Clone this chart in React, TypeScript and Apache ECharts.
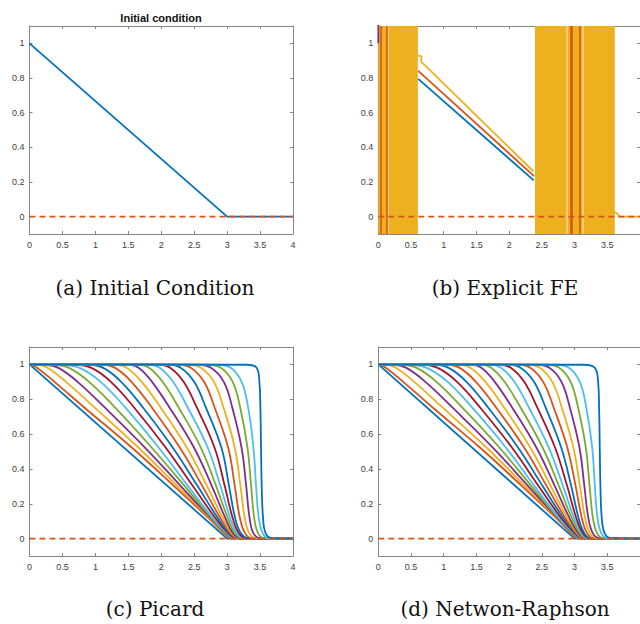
import React, { useEffect, useRef } from "react";
import * as echarts from "echarts";

// ---------- data ----------
const xMin = 0;
const xMax = 4;
const xInterval = 0.5;
const yMin = -0.1;
const yMax = 1.1;
const yTickValues = [0, 0.2, 0.4, 0.6, 0.8, 1];
const palette = ["#0072BD", "#D95319", "#EDB120", "#7E2F8E", "#77AC30", "#4DBEEE", "#A2142F"];

const panelTitle = "Initial condition";
const captions = ["(a) Initial Condition", "(b) Explicit FE", "(c) Picard", "(d) Netwon-Raphson"];

// (a) initial condition and zero reference
const initialCondition = [[0, 1], [3, 0], [4, 0]];
const zeroLine = [[0, 0], [4, 0]];

// (b) explicit FE (blow-up regions and surviving ramps)
const feBlowupRanges = [[0, 0.605], [2.395, 3.615]];
const feRedSpikesX = [0.04, 0.127, 2.94, 2.965, 3.08];
const fePaleSpikesX = [0.147, 2.885, 3.13];
const feBlueLine = [[0.61, 0.795], [2.376, 0.209]];
const feRedLine = [[0.61, 0.841], [2.38, 0.234]];
const feYellowLine = [[0.6, 0.93], [0.66, 0.925], [0.655, 0.895], [2.37, 0.262]];
const fePurpleLine = [[0, 1], [0, 1.3]];
const feYellowTail = [[3.6, 0.03], [3.66, 0.015], [3.69, 0], [4, 0]];

// (c),(d) profiles: x where each curve crosses these u levels
const profileLevels = [0.998, 0.98, 0.9, 0.75, 0.52, 0.3, 0.12, 0.03, 0.003];

const picardX = [
  [0.02, 0.12, 0.38, 0.84, 1.56, 2.2, 2.71, 2.95, 3.05],
  [0.135, 0.28, 0.555, 0.995, 1.66, 2.25, 2.73, 2.96, 3.07],
  [0.25, 0.44, 0.73, 1.15, 1.76, 2.3, 2.745, 2.975, 3.085],
  [0.365, 0.6, 0.905, 1.305, 1.86, 2.36, 2.76, 2.99, 3.1],
  [0.48, 0.76, 1.08, 1.46, 1.965, 2.41, 2.78, 3.0, 3.12],
  [0.684, 0.94, 1.236, 1.594, 2.072, 2.482, 2.818, 3.018, 3.138],
  [0.888, 1.12, 1.392, 1.728, 2.179, 2.554, 2.856, 3.036, 3.156],
  [1.092, 1.3, 1.548, 1.862, 2.286, 2.626, 2.894, 3.054, 3.174],
  [1.296, 1.48, 1.704, 1.996, 2.393, 2.698, 2.932, 3.072, 3.192],
  [1.5, 1.66, 1.86, 2.13, 2.5, 2.77, 2.97, 3.09, 3.21],
  [1.655, 1.82, 2.02, 2.268, 2.604, 2.835, 3.008, 3.12, 3.238],
  [1.81, 1.98, 2.18, 2.405, 2.708, 2.9, 3.045, 3.15, 3.265],
  [1.965, 2.14, 2.34, 2.543, 2.811, 2.965, 3.083, 3.18, 3.293],
  [2.12, 2.3, 2.5, 2.68, 2.915, 3.03, 3.12, 3.21, 3.32],
  [2.263, 2.453, 2.65, 2.813, 3.017, 3.117, 3.193, 3.273, 3.38],
  [2.407, 2.607, 2.8, 2.947, 3.118, 3.203, 3.267, 3.337, 3.44],
  [2.55, 2.76, 2.95, 3.08, 3.22, 3.29, 3.34, 3.4, 3.5],
  [2.7, 2.91, 3.085, 3.2, 3.31, 3.365, 3.41, 3.47, 3.565],
  [2.85, 3.06, 3.22, 3.32, 3.4, 3.44, 3.48, 3.54, 3.63],
  [3.3, 3.45, 3.49, 3.505, 3.515, 3.525, 3.545, 3.585, 3.68],
];

const newtonX = [
  [0.02, 0.12, 0.38, 0.84, 1.561, 2.2, 2.71, 2.95, 3.04],
  [0.133, 0.275, 0.55, 0.99, 1.66, 2.248, 2.723, 2.96, 3.055],
  [0.245, 0.43, 0.72, 1.14, 1.758, 2.295, 2.735, 2.97, 3.07],
  [0.358, 0.585, 0.89, 1.29, 1.857, 2.343, 2.748, 2.98, 3.085],
  [0.47, 0.74, 1.06, 1.44, 1.955, 2.39, 2.76, 2.99, 3.1],
  [0.66, 0.908, 1.204, 1.562, 2.048, 2.452, 2.792, 3.004, 3.112],
  [0.85, 1.076, 1.348, 1.684, 2.141, 2.514, 2.824, 3.018, 3.124],
  [1.04, 1.244, 1.492, 1.806, 2.234, 2.576, 2.856, 3.032, 3.136],
  [1.23, 1.412, 1.636, 1.928, 2.327, 2.638, 2.888, 3.046, 3.148],
  [1.42, 1.58, 1.78, 2.05, 2.42, 2.7, 2.92, 3.06, 3.16],
  [1.565, 1.73, 1.93, 2.178, 2.515, 2.763, 2.955, 3.083, 3.183],
  [1.71, 1.88, 2.08, 2.305, 2.609, 2.825, 2.99, 3.105, 3.205],
  [1.855, 2.03, 2.23, 2.433, 2.704, 2.888, 3.025, 3.128, 3.228],
  [2.0, 2.18, 2.38, 2.56, 2.798, 2.95, 3.06, 3.15, 3.25],
  [2.14, 2.327, 2.52, 2.683, 2.891, 3.017, 3.11, 3.193, 3.293],
  [2.28, 2.473, 2.66, 2.807, 2.983, 3.083, 3.16, 3.237, 3.337],
  [2.42, 2.62, 2.8, 2.93, 3.076, 3.15, 3.21, 3.28, 3.38],
  [2.57, 2.77, 2.94, 3.055, 3.173, 3.23, 3.28, 3.345, 3.44],
  [2.72, 2.92, 3.08, 3.18, 3.27, 3.31, 3.35, 3.41, 3.5],
  [3.15, 3.31, 3.36, 3.375, 3.385, 3.395, 3.415, 3.46, 3.55],
];

// ---------- chart ----------
const AXIS_COLOR = "#858585";
const LABEL_COLOR = "#404040";
const SANS = "'Liberation Sans', Arial, sans-serif";
const SERIF = "'DejaVu Serif', serif";

const grids = [
  { left: 29.5, top: 26, width: 263.5, height: 208 },
  { left: 378.3, top: 26, width: 263.7, height: 208 },
  { left: 29.5, top: 347, width: 263.5, height: 209 },
  { left: 378.3, top: 347, width: 263.7, height: 209 },
];

function axesFor(g: number) {
  const base = {
    gridIndex: g,
    type: "value" as const,
    splitLine: { show: false },
    axisLine: { show: true, onZero: false, lineStyle: { color: AXIS_COLOR, width: 1 } },
  };
  const cutRight = g === 1 || g === 3;
  const tick = { show: true, inside: true, length: 3, lineStyle: { color: AXIS_COLOR } };
  const xs = [
    {
      ...base,
      position: "bottom",
      min: xMin,
      max: xMax,
      interval: xInterval,
      axisTick: tick,
      axisLabel: {
        show: true,
        color: LABEL_COLOR,
        fontSize: 9,
        fontFamily: SANS,
        margin: 6,
        showMaxLabel: !cutRight,
        showMinLabel: true,
      },
    },
    {
      ...base,
      position: "top",
      min: xMin,
      max: xMax,
      interval: xInterval,
      axisTick: tick,
      axisLabel: { show: false },
    },
  ];
  const ys = [
    {
      ...base,
      position: "left",
      min: yMin,
      max: yMax,
      axisTick: { ...tick, customValues: yTickValues },
      axisLabel: {
        show: true,
        color: LABEL_COLOR,
        fontSize: 9,
        fontFamily: SANS,
        margin: 5,
        customValues: yTickValues,
      },
    },
    {
      ...base,
      position: "right",
      min: yMin,
      max: yMax,
      axisTick: { ...tick, customValues: yTickValues },
      axisLabel: { show: false },
    },
  ];
  return { xs, ys };
}

function lineSeries(g: number, data: any[], color: string, extra: any = {}) {
  return {
    type: "line",
    xAxisIndex: 2 * g,
    yAxisIndex: 2 * g,
    data,
    symbol: "none",
    showSymbol: false,
    clip: true,
    silent: true,
    z: 3,
    lineStyle: { color, width: 1.8 },
    itemStyle: { color },
    ...extra,
  };
}

function dashedZero(g: number) {
  return lineSeries(g, zeroLine, palette[1], {
    z: 8,
    lineStyle: { color: palette[1], width: 1.8, type: [6, 4] },
  });
}

function profileSeries(g: number, rows: number[][]) {
  const out: any[] = [lineSeries(g, initialCondition, palette[0])];
  rows.forEach((row, k) => {
    // colour order cycles; the last (final-time) profile is drawn in the first colour
    const isLast = k === rows.length - 1;
    const color = isLast ? palette[0] : palette[(k + 1) % palette.length];
    const data = [[xMin, 1], ...row.map((x, j) => [x, profileLevels[j]]), [xMax, 0]];
    out.push(lineSeries(g, data, color, { smooth: 0.4 }));
  });
  out.push(dashedZero(g));
  return out;
}

function buildOption() {
  const xAxis: any[] = [];
  const yAxis: any[] = [];
  grids.forEach((_, g) => {
    const { xs, ys } = axesFor(g);
    xAxis.push(...xs);
    yAxis.push(...ys);
  });

  const series: any[] = [];
  // (a)
  series.push(lineSeries(0, initialCondition, palette[0]));
  series.push(dashedZero(0));

  // (b)
  series.push(
    lineSeries(1, feYellowTail, palette[2], {
      z: 1,
      markArea: {
        silent: true,
        itemStyle: { color: palette[2], opacity: 1 },
        data: feBlowupRanges.map(([a, b]) => [{ xAxis: a }, { xAxis: b }]),
      },
    })
  );
  series.push(lineSeries(1, fePurpleLine, palette[3], { z: 4 }));
  series.push(
    lineSeries(1, [], palette[2], {
      z: 4,
      markLine: {
        silent: true,
        symbol: ["none", "none"],
        label: { show: false },
        lineStyle: { color: "#F6D895", width: 1.5, type: "solid" },
        data: fePaleSpikesX.map((x) => ({ xAxis: x })),
      },
    })
  );
  series.push(
    lineSeries(1, [], palette[1], {
      z: 5,
      markLine: {
        silent: true,
        symbol: ["none", "none"],
        label: { show: false },
        lineStyle: { color: palette[1], width: 1.6, type: "solid" },
        data: feRedSpikesX.map((x) => ({ xAxis: x })),
      },
    })
  );
  series.push(lineSeries(1, feBlueLine, palette[0], { z: 5 }));
  series.push(lineSeries(1, feRedLine, palette[1], { z: 5 }));
  series.push(lineSeries(1, feYellowLine, palette[2], { z: 5 }));
  series.push(dashedZero(1));

  // (c), (d)
  series.push(...profileSeries(2, picardX));
  series.push(...profileSeries(3, newtonX));

  const textEl = (text: string, x: number, y: number, font: string) => ({
    type: "text",
    x,
    y,
    silent: true,
    style: {
      text,
      font,
      fill: "#111",
      textAlign: "center",
      textVerticalAlign: "middle",
      align: "center",
      verticalAlign: "middle",
    },
  });
  const capPos = [
    [155, 288],
    [505, 288],
    [155, 609],
    [505, 609],
  ];
  const graphic = [
    textEl(panelTitle, 161, 17.5, `bold 11px ${SANS}`),
    ...captions.map((c, i) => textEl(c, capPos[i][0], capPos[i][1], `20px ${SERIF}`)),
  ];

  return {
    animation: false,
    backgroundColor: "#ffffff",
    grid: grids.map((g) => ({ ...g, containLabel: false })),
    xAxis,
    yAxis,
    series,
    graphic,
  };
}

export default function App() {
  const ref = useRef<HTMLDivElement>(null);
  useEffect(() => {
    if (!ref.current) return;
    const chart = echarts.init(ref.current, undefined, { renderer: "svg" });
    chart.setOption(buildOption() as any);
    return () => chart.dispose();
  }, []);
  return (
    <div
      ref={ref}
      style={{ position: "absolute", left: 0, top: 0, width: 640, height: 624, background: "#fff" }}
    />
  );
}
